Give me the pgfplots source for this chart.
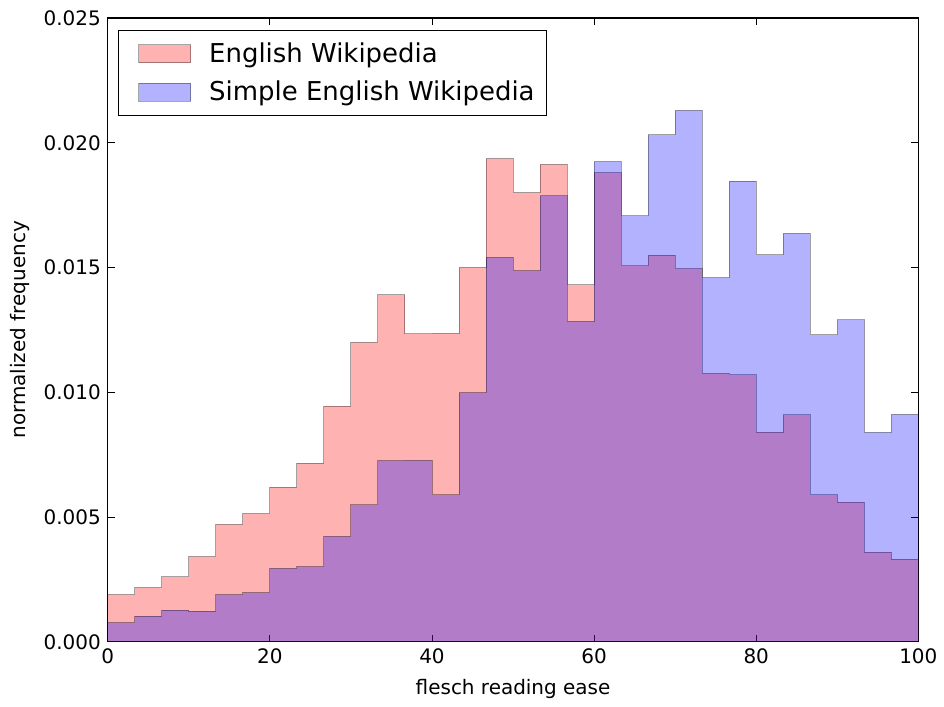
\documentclass[border=0pt]{standalone}
\usepackage{fontspec}
\setmainfont{DejaVu Sans}
\usepackage{pgfplots}
\pgfplotsset{compat=1.18}
\begin{document}
\begin{tikzpicture}
\begin{axis}[
  name=ax,
  scale only axis,
  width=406pt, height=312.5pt,
  xmin=0, xmax=100, ymin=0, ymax=0.025,
  xtick={0,20,40,60,80,100},
  ytick={0,0.005,0.010,0.015,0.020,0.025},
  scaled y ticks=false,
  yticklabel style={/pgf/number format/.cd, fixed, fixed zerofill, precision=3},
  /pgf/number format/assume math mode=true,
  tick label style={font=\fontsize{10}{12}\selectfont},
  label style={font=\fontsize{10.6}{12.7}\selectfont},
  tick align=inside,
  major tick length=3.5pt,
  tick style={black, line width=0.5pt},
  axis line style={black, line width=0.6pt},
  xlabel={flesch reading ease},
  ylabel={normalized frequency},
  every axis x label/.style={at={(axis description cs:0.5,0)}, anchor=center, yshift=-23.5pt},
  every axis y label/.style={at={(axis description cs:-0.1084,0.5)}, anchor=center, rotate=90},
  legend cell align=left,
  legend image code/.code={\path (0pt,0pt); \draw[#1] (6pt,-4.5pt) rectangle (32pt,4.5pt);},
  legend style={at={(0.0123,0.981)}, anchor=north west, draw=black, line width=0.6pt,
    font=\fontsize{13}{15.6}\selectfont, inner xsep=4pt, inner ysep=4pt, row sep=4pt,
    /tikz/every odd column/.append style={column sep=7pt}},
]
\addplot[const plot, fill=red, fill opacity=0.3, draw=black, draw opacity=0.35, line width=0.5pt] coordinates {
(0,0.00189) (3.3333,0.00217) (6.6667,0.00260) (10,0.00341) (13.3333,0.00471)
(16.6667,0.00514) (20,0.00620) (23.3333,0.00716) (26.6667,0.00944) (30,0.01200)
(33.3333,0.01390) (36.6667,0.01234) (40,0.01236) (43.3333,0.01501) (46.6667,0.01936)
(50,0.01800) (53.3333,0.01913) (56.6667,0.01430) (60,0.01880) (63.3333,0.01507)
(66.6667,0.01550) (70,0.01496) (73.3333,0.01076) (76.6667,0.01070) (80,0.00840)
(83.3333,0.00909) (86.6667,0.00589) (90,0.00560) (93.3333,0.00359) (96.6667,0.00331)
(100,0.00331)
} \closedcycle;
\addlegendentry{English Wikipedia}
\addplot[const plot, fill=blue, fill opacity=0.3, draw=black, draw opacity=0.35, line width=0.5pt] coordinates {
(0,0.00077) (3.3333,0.00103) (6.6667,0.00127) (10,0.00123) (13.3333,0.00189)
(16.6667,0.00197) (20,0.00294) (23.3333,0.00301) (26.6667,0.00423) (30,0.00549)
(33.3333,0.00726) (36.6667,0.00727) (40,0.00589) (43.3333,0.00999) (46.6667,0.01541)
(50,0.01487) (53.3333,0.01787) (56.6667,0.01284) (60,0.01924) (63.3333,0.01707)
(66.6667,0.02031) (70,0.02130) (73.3333,0.01459) (76.6667,0.01846) (80,0.01551)
(83.3333,0.01637) (86.6667,0.01230) (90,0.01290) (93.3333,0.00839) (96.6667,0.00911)
(100,0.00911)
} \closedcycle;
\addlegendentry{Simple English Wikipedia}
\end{axis}
\path (ax.south west) ++(-54pt,-32.5pt) rectangle +(472pt,354pt);
\end{tikzpicture}
\end{document}
